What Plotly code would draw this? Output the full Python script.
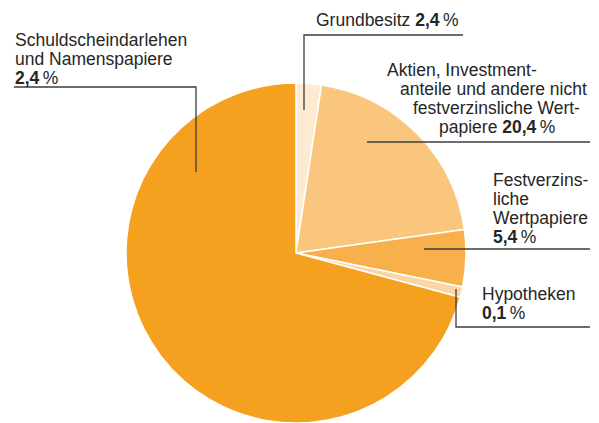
import plotly.graph_objects as go

# ---- data ----
categories = ["Grundbesitz", "Aktien, Investmentanteile und andere nicht festverzinsliche Wertpapiere",
              "Festverzinsliche Wertpapiere", "Hypotheken", "Schuldscheindarlehen und Namenspapiere"]
slice_values = [2.4, 20.4, 5.4, 1.0, 70.8]          # shares as drawn in the pie
label_values = ["2,4", "20,4", "5,4", "0,1", "2,4"]  # percentages printed in the labels
colors = ["#FEEAD2", "#FAC57C", "#F8B04C", "#FCD6A2", "#F5A11F"]

W, H = 599, 423
FONT = "Liberation Sans"
FS = 17.5
TXT = "#262626"
LINE = "#3c3c3c"

fig = go.Figure()
fig.add_trace(go.Pie(
    labels=categories, values=slice_values, sort=False, direction="clockwise",
    rotation=0, marker=dict(colors=colors, line=dict(color="white", width=1.5)),
    textinfo="none", hoverinfo="label+percent", showlegend=False,
    domain=dict(x=[126 / W, 466 / W], y=[0, 340 / H]),
))

def pct(i):
    return f"<b>{label_values[i]}</b>\u2009%"

# label lines: (x_left, y_center, text)
labels = [
    (314, 20, f"Grundbesitz {pct(0)}"),
    (385, 70, "Aktien, Investment-"),
    (398, 89, "anteile und andere nicht"),
    (411, 108, "festverzinsliche Wert-"),
    (437, 127, f"papiere {pct(1)}"),
    (491, 180, "Festverzins-"),
    (491, 199, "liche"),
    (491, 218, "Wertpapiere"),
    (491, 237, pct(2)),
    (480, 294, "Hypotheken"),
    (480, 313, pct(3)),
    (13, 40, "Schuldscheindarlehen"),
    (13, 59, "und Namenspapiere"),
    (13, 78, pct(4)),
]
annotations = [dict(x=x, y=y, xref="x", yref="y", text=t, showarrow=False,
                    xanchor="left", yanchor="middle",
                    font=dict(family=FONT, size=FS, color=TXT))
               for x, y, t in labels]

# leader lines (paths in pixel space)
paths = [
    "M 304 110 L 304 35 L 463 35",
    "M 367 142 L 590 142",
    "M 424 249 L 590 249",
    "M 456 289 L 456 327 L 590 327",
    "M 14 87 L 196 87 L 196 172",
]
shapes = [dict(type="path", path=p, xref="x", yref="y",
               line=dict(color=LINE, width=1.3)) for p in paths]

fig.update_layout(
    width=W, height=H, margin=dict(l=0, r=0, t=0, b=0),
    paper_bgcolor="white", plot_bgcolor="rgba(0,0,0,0)",
    xaxis=dict(range=[0, W], visible=False, fixedrange=True),
    yaxis=dict(range=[H, 0], visible=False, fixedrange=True),
    annotations=annotations, shapes=shapes,
)
fig.write_html("out.html")
